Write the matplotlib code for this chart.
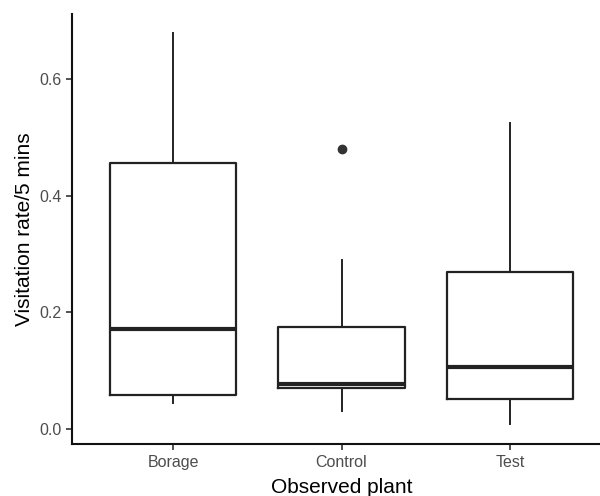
import matplotlib
matplotlib.use('Agg')
import matplotlib.pyplot as plt

plt.rcParams['font.family'] = ['Liberation Sans', 'DejaVu Sans']

# values
plants = ['Borage', 'Control', 'Test']
whisker_low = [0.044, 0.031, 0.008]
box_low = [0.058, 0.070, 0.051]
medians = [0.171, 0.077, 0.1065]
box_high = [0.456, 0.1755, 0.2695]
whisker_high = [0.678, 0.289, 0.524]
outliers = [[], [0.480], []]

stats = []
for i in range(len(plants)):
    stats.append({'label': plants[i], 'whislo': whisker_low[i], 'q1': box_low[i],
                  'med': medians[i], 'q3': box_high[i], 'whishi': whisker_high[i],
                  'fliers': outliers[i]})

fig = plt.figure(figsize=(6, 4.96), dpi=100)
ax = fig.add_axes([72/600, 52/496, 539/600, 430/496])

line = '#222222'
ax.bxp(stats, positions=[1, 2, 3], widths=0.75, showcaps=False,
       boxprops=dict(color=line, linewidth=1.6),
       whiskerprops=dict(color=line, linewidth=1.4),
       medianprops=dict(color=line, linewidth=3),
       flierprops=dict(marker='o', markerfacecolor='#333333', markeredgecolor='#333333',
                       markersize=6))

ax.set_xlim(0.4, 3.6)
ax.set_ylim(-0.0256, 0.711)
ax.set_yticks([0.0, 0.2, 0.4, 0.6])
ax.set_yticklabels(['0.0', '0.2', '0.4', '0.6'])

for s in ['top', 'right']:
    ax.spines[s].set_visible(False)
for s in ['left', 'bottom']:
    ax.spines[s].set_linewidth(1.5)
    ax.spines[s].set_color('#111111')

ax.tick_params(axis='both', length=4, width=1.2, color='#333333',
               labelcolor='#4d4d4d', labelsize=11.5)
ax.tick_params(axis='x', pad=4)
ax.set_xlabel('Observed plant', fontsize=15, labelpad=6)
ax.set_ylabel('Visitation rate/5 mins', fontsize=15, labelpad=4)

fig.savefig('out.png', dpi=100)
